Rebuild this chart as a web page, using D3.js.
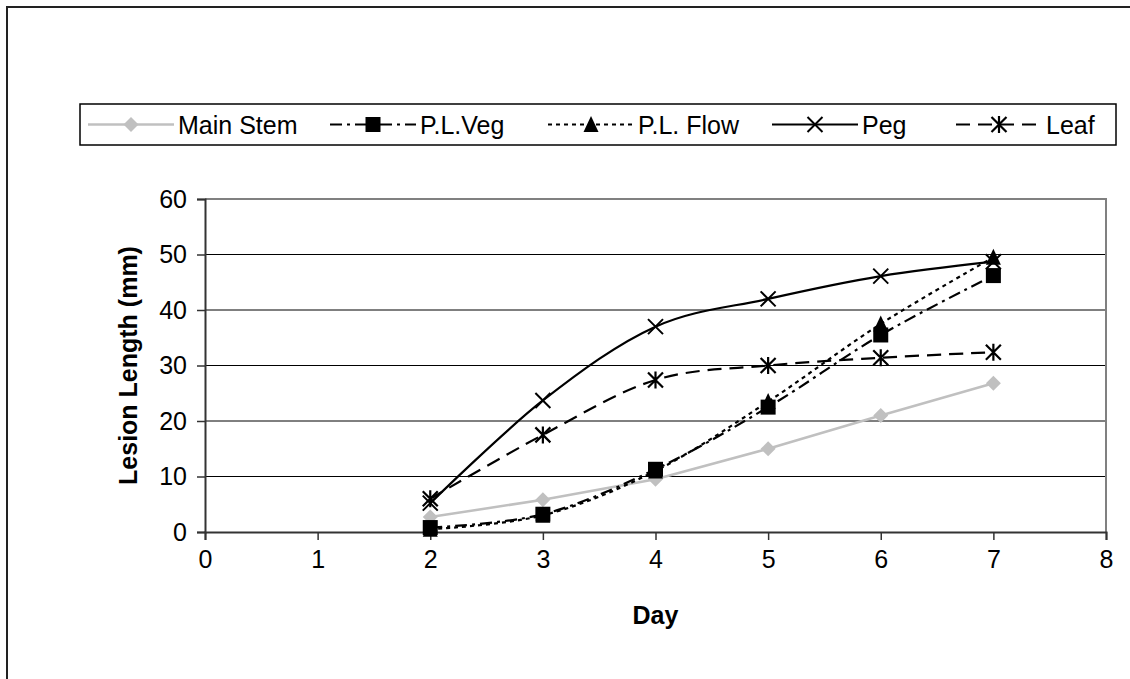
<!DOCTYPE html>
<html>
<head>
<meta charset="utf-8">
<script src="https://cdn.jsdelivr.net/npm/d3@7"></script>
<style>
  body { margin: 0; background: #fff; }
  text { font-family: "Liberation Sans", Arial, sans-serif; fill: #000; }
</style>
</head>
<body>
<svg></svg>
<script>
// data
let days = [2, 3, 4, 5, 6, 7]
let mainStem = [2.7, 5.8, 9.5, 15, 21, 26.8]
let plVeg = [0.8, 3.2, 11.3, 22.5, 35.5, 46.2]
let plFlow = [0.5, 3.0, 11.0, 23.5, 37.5, 49.5]
let peg = [5.2, 23.7, 37, 42, 46.1, 48.7]
let leaf = [6.0, 17.5, 27.4, 30.0, 31.4, 32.4]
let seriesNames = ['Main Stem', 'P.L.Veg', 'P.L. Flow', 'Peg', 'Leaf']
let xTicks = [0, 1, 2, 3, 4, 5, 6, 7, 8]
let yTicks = [0, 10, 20, 30, 40, 50, 60]

let width = 1130
let height = 679
let plot = { left: 205, right: 1106, top: 199, bottom: 532 }

let svg = d3.select('svg').attr('width', width).attr('height', height)

// chart area border (runs off the right and bottom of the picture)
svg.append('rect')
   .attr('x', 7).attr('y', 7)
   .attr('width', width + 20).attr('height', height + 20)
   .attr('fill', 'none').attr('stroke', '#222').attr('stroke-width', 2)

let xScale = d3.scaleLinear().domain([0, 8]).range([plot.left, plot.right])
let yScale = d3.scaleLinear().domain([0, 60]).range([plot.bottom, plot.top])

// gridlines
svg.append('g')
   .selectAll('line')
   .data(yTicks.filter(d => d > 0 && d < 60))
   .enter()
   .append('line')
   .attr('x1', plot.left).attr('x2', plot.right)
   .attr('y1', d => yScale(d)).attr('y2', d => yScale(d))
   .attr('stroke', '#000').attr('stroke-width', 1)

// plot area top / right border
svg.append('path')
   .attr('d', `M${plot.left},${plot.top}H${plot.right}V${plot.bottom}`)
   .attr('fill', 'none').attr('stroke', '#808080').attr('stroke-width', 2)

let xAxis = d3.axisBottom(xScale).tickValues(xTicks).tickSize(8).tickPadding(10).tickFormat(d3.format('d'))
let yAxis = d3.axisLeft(yScale).tickValues(yTicks).tickSize(8).tickPadding(10).tickFormat(d3.format('d'))

let gx = svg.append('g')
   .attr('transform', 'translate(0,' + plot.bottom + ')')
   .call(xAxis)
let gy = svg.append('g')
   .attr('transform', 'translate(' + plot.left + ',0)')
   .call(yAxis)

;[gx, gy].forEach(g => {
  g.select('.domain').attr('stroke', '#333').attr('stroke-width', 2)
  g.selectAll('.tick line').attr('stroke', '#333').attr('stroke-width', 1.5)
  g.selectAll('.tick text')
   .attr('fill', '#000')
   .style('font-size', '25px')
   .style('font-family', '"Liberation Sans", Arial, sans-serif')
})

// axis titles
svg.append('text')
   .attr('x', (plot.left + plot.right) / 2).attr('y', 624)
   .attr('text-anchor', 'middle')
   .style('font-size', '25px').style('font-weight', 'bold')
   .text('Day')

svg.append('text')
   .attr('transform', 'translate(137,' + (plot.top + plot.bottom) / 2 + ') rotate(-90)')
   .attr('text-anchor', 'middle')
   .style('font-size', '25px').style('font-weight', 'bold')
   .text('Lesion Length (mm)')

// marker shapes
let drawMarker = (g, kind, x, y, color) => {
  let s = 7.5
  if (kind === 'diamond') {
    g.append('path').attr('d', `M${x},${y - s}L${x + s},${y}L${x},${y + s}L${x - s},${y}Z`).attr('fill', color)
  } else if (kind === 'square') {
    g.append('rect').attr('x', x - s).attr('y', y - s).attr('width', 2 * s).attr('height', 2 * s).attr('fill', color)
  } else if (kind === 'triangle') {
    g.append('path').attr('d', `M${x},${y - s - 1}L${x + s},${y + s}L${x - s},${y + s}Z`).attr('fill', color)
  } else if (kind === 'x') {
    g.append('path').attr('d', `M${x - s},${y - s}L${x + s},${y + s}M${x + s},${y - s}L${x - s},${y + s}`)
     .attr('stroke', color).attr('stroke-width', 2)
  } else if (kind === 'star') {
    g.append('path').attr('d', `M${x - s},${y - s}L${x + s},${y + s}M${x + s},${y - s}L${x - s},${y + s}M${x},${y - s - 1}L${x},${y + s + 1}`)
     .attr('stroke', color).attr('stroke-width', 2.2)
  }
}

let series = [
  { name: seriesNames[0], values: mainStem, color: '#c0c0c0', dash: null, marker: 'diamond', curve: d3.curveLinear, w: 2.5 },
  { name: seriesNames[1], values: plVeg, color: '#000', dash: '12,5,3,5', marker: 'square', curve: d3.curveCardinal, w: 2.2 },
  { name: seriesNames[2], values: plFlow, color: '#000', dash: '4,4', marker: 'triangle', curve: d3.curveCardinal, w: 2.2 },
  { name: seriesNames[3], values: peg, color: '#000', dash: null, marker: 'x', curve: d3.curveCardinal, w: 2.2 },
  { name: seriesNames[4], values: leaf, color: '#000', dash: '14,8', marker: 'star', curve: d3.curveCardinal, w: 2.2 }
]

series.forEach(s => {
  let pts = days.map((d, i) => [d, s.values[i]])
  let line = d3.line().x(p => xScale(p[0])).y(p => yScale(p[1])).curve(s.curve)
  svg.append('path')
     .attr('d', line(pts))
     .attr('fill', 'none')
     .attr('stroke', s.color)
     .attr('stroke-width', s.w)
     .attr('stroke-dasharray', s.dash)
  let g = svg.append('g')
  pts.forEach(p => drawMarker(g, s.marker, xScale(p[0]), yScale(p[1]), s.color))
})

// legend
let legendBox = { x: 80, y: 104, w: 1036, h: 41 }
let legendX = [88, 330, 548, 772, 956]
let symW = 86
let legend = svg.append('g')
legend.append('rect')
   .attr('x', legendBox.x).attr('y', legendBox.y)
   .attr('width', legendBox.w).attr('height', legendBox.h)
   .attr('fill', '#fff').attr('stroke', '#000').attr('stroke-width', 1.5)

let ly = legendBox.y + legendBox.h / 2
series.forEach((s, i) => {
  let x0 = legendX[i]
  legend.append('line')
     .attr('x1', x0).attr('x2', x0 + symW)
     .attr('y1', ly).attr('y2', ly)
     .attr('stroke', s.color).attr('stroke-width', s.w)
     .attr('stroke-dasharray', s.dash)
  drawMarker(legend, s.marker, x0 + symW / 2, ly, s.color)
  legend.append('text')
     .attr('x', x0 + symW + 4).attr('y', ly + 9)
     .style('font-size', '25px')
     .text(s.name)
})
</script>
</body>
</html>
